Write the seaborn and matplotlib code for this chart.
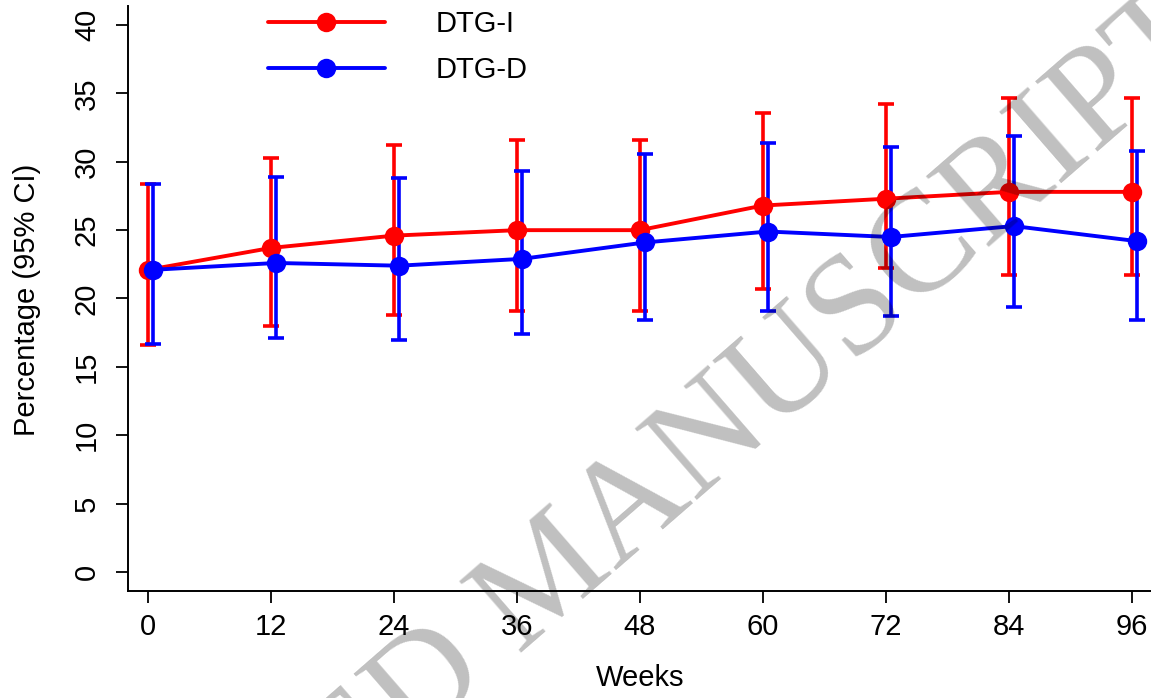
import pandas as pd
import matplotlib
matplotlib.use("Agg")
import matplotlib.pyplot as plt
import seaborn as sns
from matplotlib.lines import Line2D

# values
weeks = [0, 12, 24, 36, 48, 60, 72, 84, 96]
groups = ["DTG-I", "DTG-D"]
colors = {"DTG-I": "#ff0000", "DTG-D": "#0000ff"}
offsets = {"DTG-I": 0.0, "DTG-D": 0.5}

dtg_i_mean = [22.1, 23.7, 24.6, 25.0, 25.0, 26.8, 27.3, 27.8, 27.8]
dtg_i_low = [16.6, 18.0, 18.8, 19.1, 19.1, 20.7, 22.2, 21.7, 21.7]
dtg_i_high = [28.4, 30.3, 31.2, 31.6, 31.6, 33.6, 34.2, 34.7, 34.7]

dtg_d_mean = [22.1, 22.6, 22.4, 22.9, 24.1, 24.9, 24.5, 25.3, 24.2]
dtg_d_low = [16.7, 17.1, 17.0, 17.4, 18.4, 19.1, 18.7, 19.4, 18.4]
dtg_d_high = [28.4, 28.9, 28.8, 29.3, 30.6, 31.4, 31.1, 31.9, 30.8]

y_ticks = [0, 5, 10, 15, 20, 25, 30, 35, 40]

# long table for seaborn
frames = []
for g, m, lo, hi in [("DTG-I", dtg_i_mean, dtg_i_low, dtg_i_high),
                     ("DTG-D", dtg_d_mean, dtg_d_low, dtg_d_high)]:
    frames.append(pd.DataFrame({"week": weeks, "group": g, "mean": m,
                                "low": lo, "high": hi}))
df = pd.concat(frames, ignore_index=True)
df["x"] = df["week"] + df["group"].map(offsets)

sns.set_style("ticks")
plt.rcParams["font.family"] = ["Liberation Sans", "DejaVu Sans"]
plt.rcParams["text.color"] = "black"
plt.rcParams["xtick.color"] = "black"
plt.rcParams["ytick.color"] = "black"

fig = plt.figure(figsize=(11.51, 6.98), dpi=100)
ax = fig.add_axes([128 / 1151, 1 - 591 / 698, 1 - 128 / 1151, (591 - 6) / 698])

for g in groups:
    sub = df[df["group"] == g]
    ax.errorbar(sub["x"], sub["mean"],
                yerr=[sub["mean"] - sub["low"], sub["high"] - sub["mean"]],
                fmt="none", ecolor=colors[g], elinewidth=2.6, capsize=6,
                capthick=2.6, zorder=2)
    sns.lineplot(data=sub, x="x", y="mean", color=colors[g], marker="o",
                 markersize=14, markeredgewidth=0, linewidth=2.8,
                 legend=False, ax=ax, zorder=3)

ax.set_xlim(-1.96, 97.9)
ax.set_ylim(-1.4, 41.4)
ax.set_xticks(weeks)
ax.set_yticks(y_ticks)
ax.set_xlabel("")
ax.set_ylabel("")
ax.tick_params(axis="both", labelsize=21, length=8.5, width=1.3,
               color="black", labelcolor="black")
ax.tick_params(axis="x", pad=7)
ax.tick_params(axis="y", pad=11)
for lab in ax.get_yticklabels():
    lab.set_rotation(90)
    lab.set_va("center")
for side in ["top", "right"]:
    ax.spines[side].set_visible(False)
for side in ["left", "bottom"]:
    ax.spines[side].set_color("black")
    ax.spines[side].set_linewidth(1.4)

fig.text(640 / 1151, 1 - 678 / 698, "Weeks", fontsize=21, ha="center", va="center")
fig.text(27 / 1151, 1 - 300 / 698, "Percentage (95% CI)", fontsize=21,
         rotation=90, ha="center", va="center")

handles = [Line2D([], [], color=colors[g], marker="o", markersize=14,
                  markeredgewidth=0, linewidth=2.8) for g in groups]
fig.legend(handles, groups, loc="upper left", bbox_to_anchor=(268 / 1151, 0.985),
           frameon=False, fontsize=21, borderpad=0, borderaxespad=0,
           handlelength=4.0, handletextpad=1.75, labelspacing=0.6)

# watermark
fig.text(552 / 1151, 1 - 580 / 698, "ACCEPTED MANUSCRIPT", fontsize=104,
         family="Liberation Serif", color="black", alpha=0.25, rotation=41,
         rotation_mode="anchor", ha="center", va="center", zorder=10)

fig.savefig("out.png", dpi=100)
